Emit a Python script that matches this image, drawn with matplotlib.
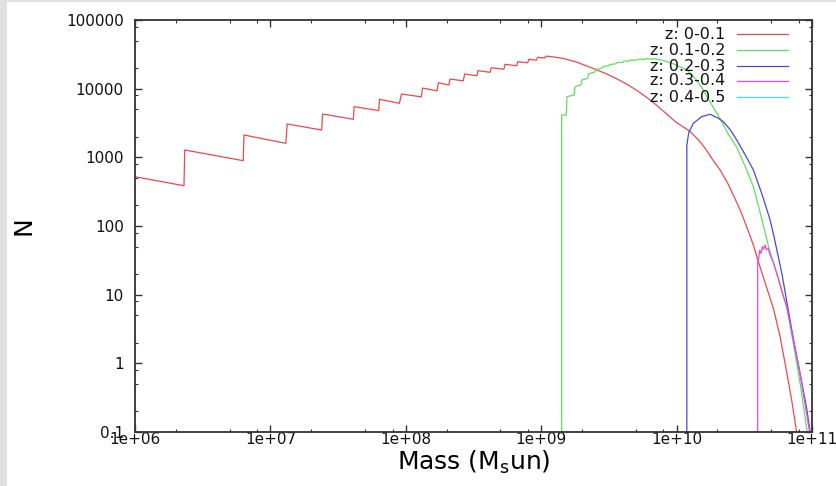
import matplotlib
matplotlib.use('Agg')
import matplotlib.pyplot as plt
from matplotlib.patches import Rectangle
from matplotlib.ticker import FixedLocator, LogLocator, NullFormatter

plt.rcParams['font.family'] = ['DejaVu Sans']
plt.rcParams['mathtext.default'] = 'regular'

# values (mass in M_sun, N)
red_m = [1.0e6, 2.30e6, 2.33e6, 6.3e6, 6.38e6, 1.30e7, 1.33e7, 2.39e7, 2.43e7,
         4.1e7, 4.15e7, 6.3e7, 6.4e7, 8.96e7, 9.3e7, 1.30e8, 1.33e8, 1.70e8,
         1.74e8, 2.08e8, 2.12e8, 2.66e8, 2.72e8, 3.35e8, 3.41e8, 4.2e8, 4.28e8,
         5.3e8, 5.4e8, 6.6e8, 6.7e8, 7.95e8, 8.1e8, 9.2e8, 9.4e8, 1.06e9, 1.08e9,
         1.2e9, 1.45e9, 1.8e9, 2.4e9, 3.0e9, 3.6e9, 4.3e9, 5.1e9, 6.0e9, 7.0e9,
         8.3e9, 1.0e10, 1.13e10, 1.26e10, 1.45e10, 1.65e10, 1.85e10, 2.1e10,
         2.4e10, 2.7e10, 2.95e10, 3.2e10, 3.45e10, 3.7e10, 4.0e10, 4.5e10,
         5.2e10, 5.8e10, 6.5e10, 7.1e10, 7.7e10, 8.0e10]
red_n = [522, 386, 1280, 893, 2115, 1600, 3060, 2500, 4280,
         3580, 5470, 4790, 7000, 6120, 8360, 7600, 10200, 9300,
         12200, 11300, 13800, 13000, 16400, 15400, 18300, 17300, 20200,
         19200, 22600, 21600, 24700, 23800, 26800, 26000, 28600, 27900, 29800,
         29200, 27600, 24600, 19800, 16600, 14000, 11600, 9400, 7500, 5900,
         4400, 3200, 2750, 2370, 1800, 1300, 920, 650,
         410, 250, 170, 113, 76, 52, 31, 15,
         6.2, 2.5, 0.75, 0.28, 0.1, 0.06]

green_m = [1.416e9, 1.416e9, 1.53e9, 1.55e9, 1.75e9, 1.78e9, 1.96e9, 2.0e9,
           2.2e9, 2.25e9, 2.5e9, 2.56e9, 2.8e9, 2.86e9, 3.15e9, 3.22e9, 3.55e9,
           3.62e9, 4.0e9, 4.08e9, 4.5e9, 4.6e9, 5.1e9, 5.2e9, 5.8e9, 5.9e9,
           6.6e9, 6.7e9, 7.5e9, 9.0e9, 1.05e10, 1.2e10, 1.4e10, 1.57e10, 1.8e10,
           2.09e10, 2.4e10, 2.78e10, 3.2e10, 3.69e10, 4.2e10, 4.75e10, 5.5e10,
           6.5e10, 7.5e10, 8.3e10, 9.1e10, 9.4e10]
green_n = [0.01, 4140, 4100, 7640, 8100, 10700, 11300, 13400,
           14100, 16500, 17500, 19200, 19800, 21000, 21500, 22500, 23000,
           24000, 24200, 25200, 25200, 26200, 26000, 26900, 26600, 27400,
           26800, 27400, 26500, 24000, 21000, 18500, 13500, 9600, 6000,
           3700, 2200, 1400, 750, 374, 140, 52, 20,
           6.7, 1.4, 0.42, 0.12, 0.07]

blue_m = [1.19e10, 1.19e10, 1.23e10, 1.33e10, 1.53e10, 1.77e10, 2.03e10,
          2.21e10, 2.5e10, 2.78e10, 3.2e10, 3.69e10, 4.3e10, 4.9e10, 5.2e10,
          6.0e10, 7.3e10, 8.3e10, 9.1e10, 9.7e10, 9.9e10]
blue_n = [0.01, 1510, 2300, 3130, 3910, 4240, 3710,
          3310, 2500, 1790, 1100, 655, 280, 123, 75,
          20, 2.2, 0.6, 0.23, 0.1, 0.07]

magenta_m = [3.97e10, 3.97e10, 4.05e10, 4.1e10, 4.2e10, 4.3e10, 4.4e10,
             4.5e10, 4.6e10, 4.75e10, 4.9e10, 5.2e10, 5.6e10, 6.0e10, 6.5e10,
             7.3e10, 8.15e10, 9.0e10, 9.6e10]
magenta_n = [0.01, 30, 35, 44, 40, 50, 46,
             53, 45, 47, 38, 29, 18, 11, 6.7,
             2.2, 0.72, 0.22, 0.1]

cyan_m = []
cyan_n = []

labels = ['z: 0-0.1', 'z: 0.1-0.2', 'z: 0.2-0.3', 'z: 0.3-0.4', 'z: 0.4-0.5']
colors = ['#ee4848', '#5ee05e', '#4848dd', '#ee44ee', '#44dde0']

x_ticks = [1e6, 1e7, 1e8, 1e9, 1e10, 1e11]
x_ticklabels = ['1e+06', '1e+07', '1e+08', '1e+09', '1e+10', '1e+11']
y_ticks = [0.1, 1, 10, 100, 1000, 10000, 100000]
y_ticklabels = ['0.1', '1', '10', '100', '1000', '10000', '100000']

fig = plt.figure(figsize=(8.36, 4.86), dpi=100, facecolor='#e0e0e0')
fig.patches.append(Rectangle((7 / 836, 0), 1, 1 - 2 / 486, transform=fig.transFigure,
                             facecolor='white', edgecolor='none', zorder=-10))
ax = fig.add_axes([135 / 836, 54 / 486, 677 / 836, 412 / 486])
ax.set_zorder(1)
ax.set_facecolor('white')

series = [(red_m, red_n), (green_m, green_n), (blue_m, blue_n),
          (magenta_m, magenta_n), (cyan_m, cyan_n)]
for (m, n), c in zip(series, colors):
    ax.plot(m, n, color=c, lw=0.9)

ax.set_xscale('log')
ax.set_yscale('log')
ax.set_xlim(1e6, 1e11)
ax.set_ylim(0.1, 100000)

ax.xaxis.set_major_locator(FixedLocator(x_ticks))
ax.set_xticklabels(x_ticklabels)
ax.yaxis.set_major_locator(FixedLocator(y_ticks))
ax.set_yticklabels(y_ticklabels)
for a in (ax.xaxis, ax.yaxis):
    a.set_minor_locator(LogLocator(base=10, subs=(2, 5, 8)))
    a.set_minor_formatter(NullFormatter())

ax.tick_params(which='both', direction='in', top=True, right=True,
               color='#333333', labelsize=11, labelcolor='#111111')
ax.tick_params(which='major', length=5, width=1.0)
ax.tick_params(which='minor', length=2.5, width=0.8)
ax.tick_params(axis='x', pad=0)
ax.tick_params(axis='y', pad=8)
for s in ax.spines.values():
    s.set_color('#333333')
    s.set_linewidth(1.3)

ax.set_xlabel('Mass (M$_\\mathrm{s}$un)', fontsize=18, labelpad=1)
ax.set_ylabel('N', fontsize=18, labelpad=22)

# gnuplot style key: right aligned text, sample line after it
row_y = [0.966, 0.927, 0.888, 0.852, 0.813]
for lab, c, yy in zip(labels, colors, row_y):
    ax.text(0.8715, yy, lab, transform=ax.transAxes, ha='right', va='center',
            fontsize=11.5, color='#111111')
    ax.plot([0.889, 0.9645], [yy, yy], transform=ax.transAxes, color=c, lw=0.9)

fig.savefig('out.png', dpi=100, facecolor=fig.get_facecolor())
